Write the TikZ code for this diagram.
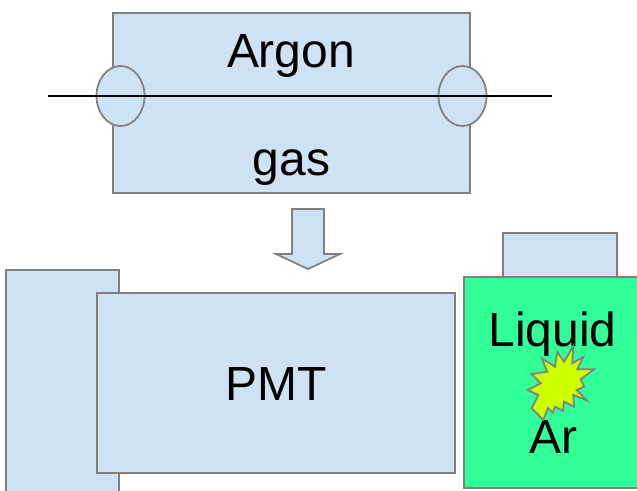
\documentclass[tikz,border=0pt]{standalone}
\usepackage{fontspec}
\setmainfont{Liberation Sans}
\definecolor{boxblue}{HTML}{CFE2F3}
\definecolor{boxgreen}{HTML}{33FF99}
\definecolor{burst}{HTML}{CCFF00}
\definecolor{edge}{HTML}{808080}
\tikzset{
	part/.style={draw=edge,fill=boxblue,line width=1pt},
	label/.style={font=\fontsize{27.3}{31}\selectfont,text=black,anchor=base,inner sep=0pt}
}
\begin{document}
\begin{tikzpicture}[x=0.02cm,y=-0.02cm]
	\useasboundingbox (0,0) rectangle (637,491);
	\draw[part] (113,13) rectangle (470,193);
	\draw[part] (120.5,96) ellipse (24 and 30);
	\draw[part] (462.5,96) ellipse (24 and 30);
	\coordinate (wireL) at (48,96);
	\coordinate (wireR) at (552,96);
	\draw[black,line width=1pt] (wireL) -- (wireR);
	\node[label] (argon) at (291,67) {Argon};
	\node[label] (gas) at (291.5,175) {gas};
	\draw[part] (292,209) -- (324,209) -- (324,254) -- (340,254) -- (308,269) -- (276,254) -- (292,254) -- cycle;
	\draw[part] (6,270) rectangle (119,495);
	\draw[part] (97,293) rectangle (455,473);
	\node[label] (pmt) at (276.5,400) {PMT};
	\draw[part] (503,233) rectangle (617,277);
	\draw[part,fill=boxgreen] (464,277) rectangle (641,488);
	\node[label] (liquid) at (552.5,346) {Liquid};
	\node[label] (ar) at (553.5,453) {Ar};
	\draw[draw=edge,fill=burst,line width=1pt] (573.3,346) -- (572.3,363.3) -- (583.3,356.7) -- (577.3,369.3) -- (594,369.3) -- (580.7,379.3) -- (584.3,386.7) -- (576.7,390) -- (586.7,400.3) -- (573.3,395) -- (574,406.7) -- (564,401.7) -- (563,410.7) -- (555,406.7) -- (552.7,412.7) -- (548,408) -- (543.3,420) -- (531.7,408.3) -- (538.3,395) -- (527.7,390) -- (540.7,383.3) -- (531.7,374) -- (547.3,371.7) -- (541.7,358.3) -- (555,366.7) -- (557.3,351.7) -- (564,361.7) -- cycle;
\end{tikzpicture}
\end{document}
